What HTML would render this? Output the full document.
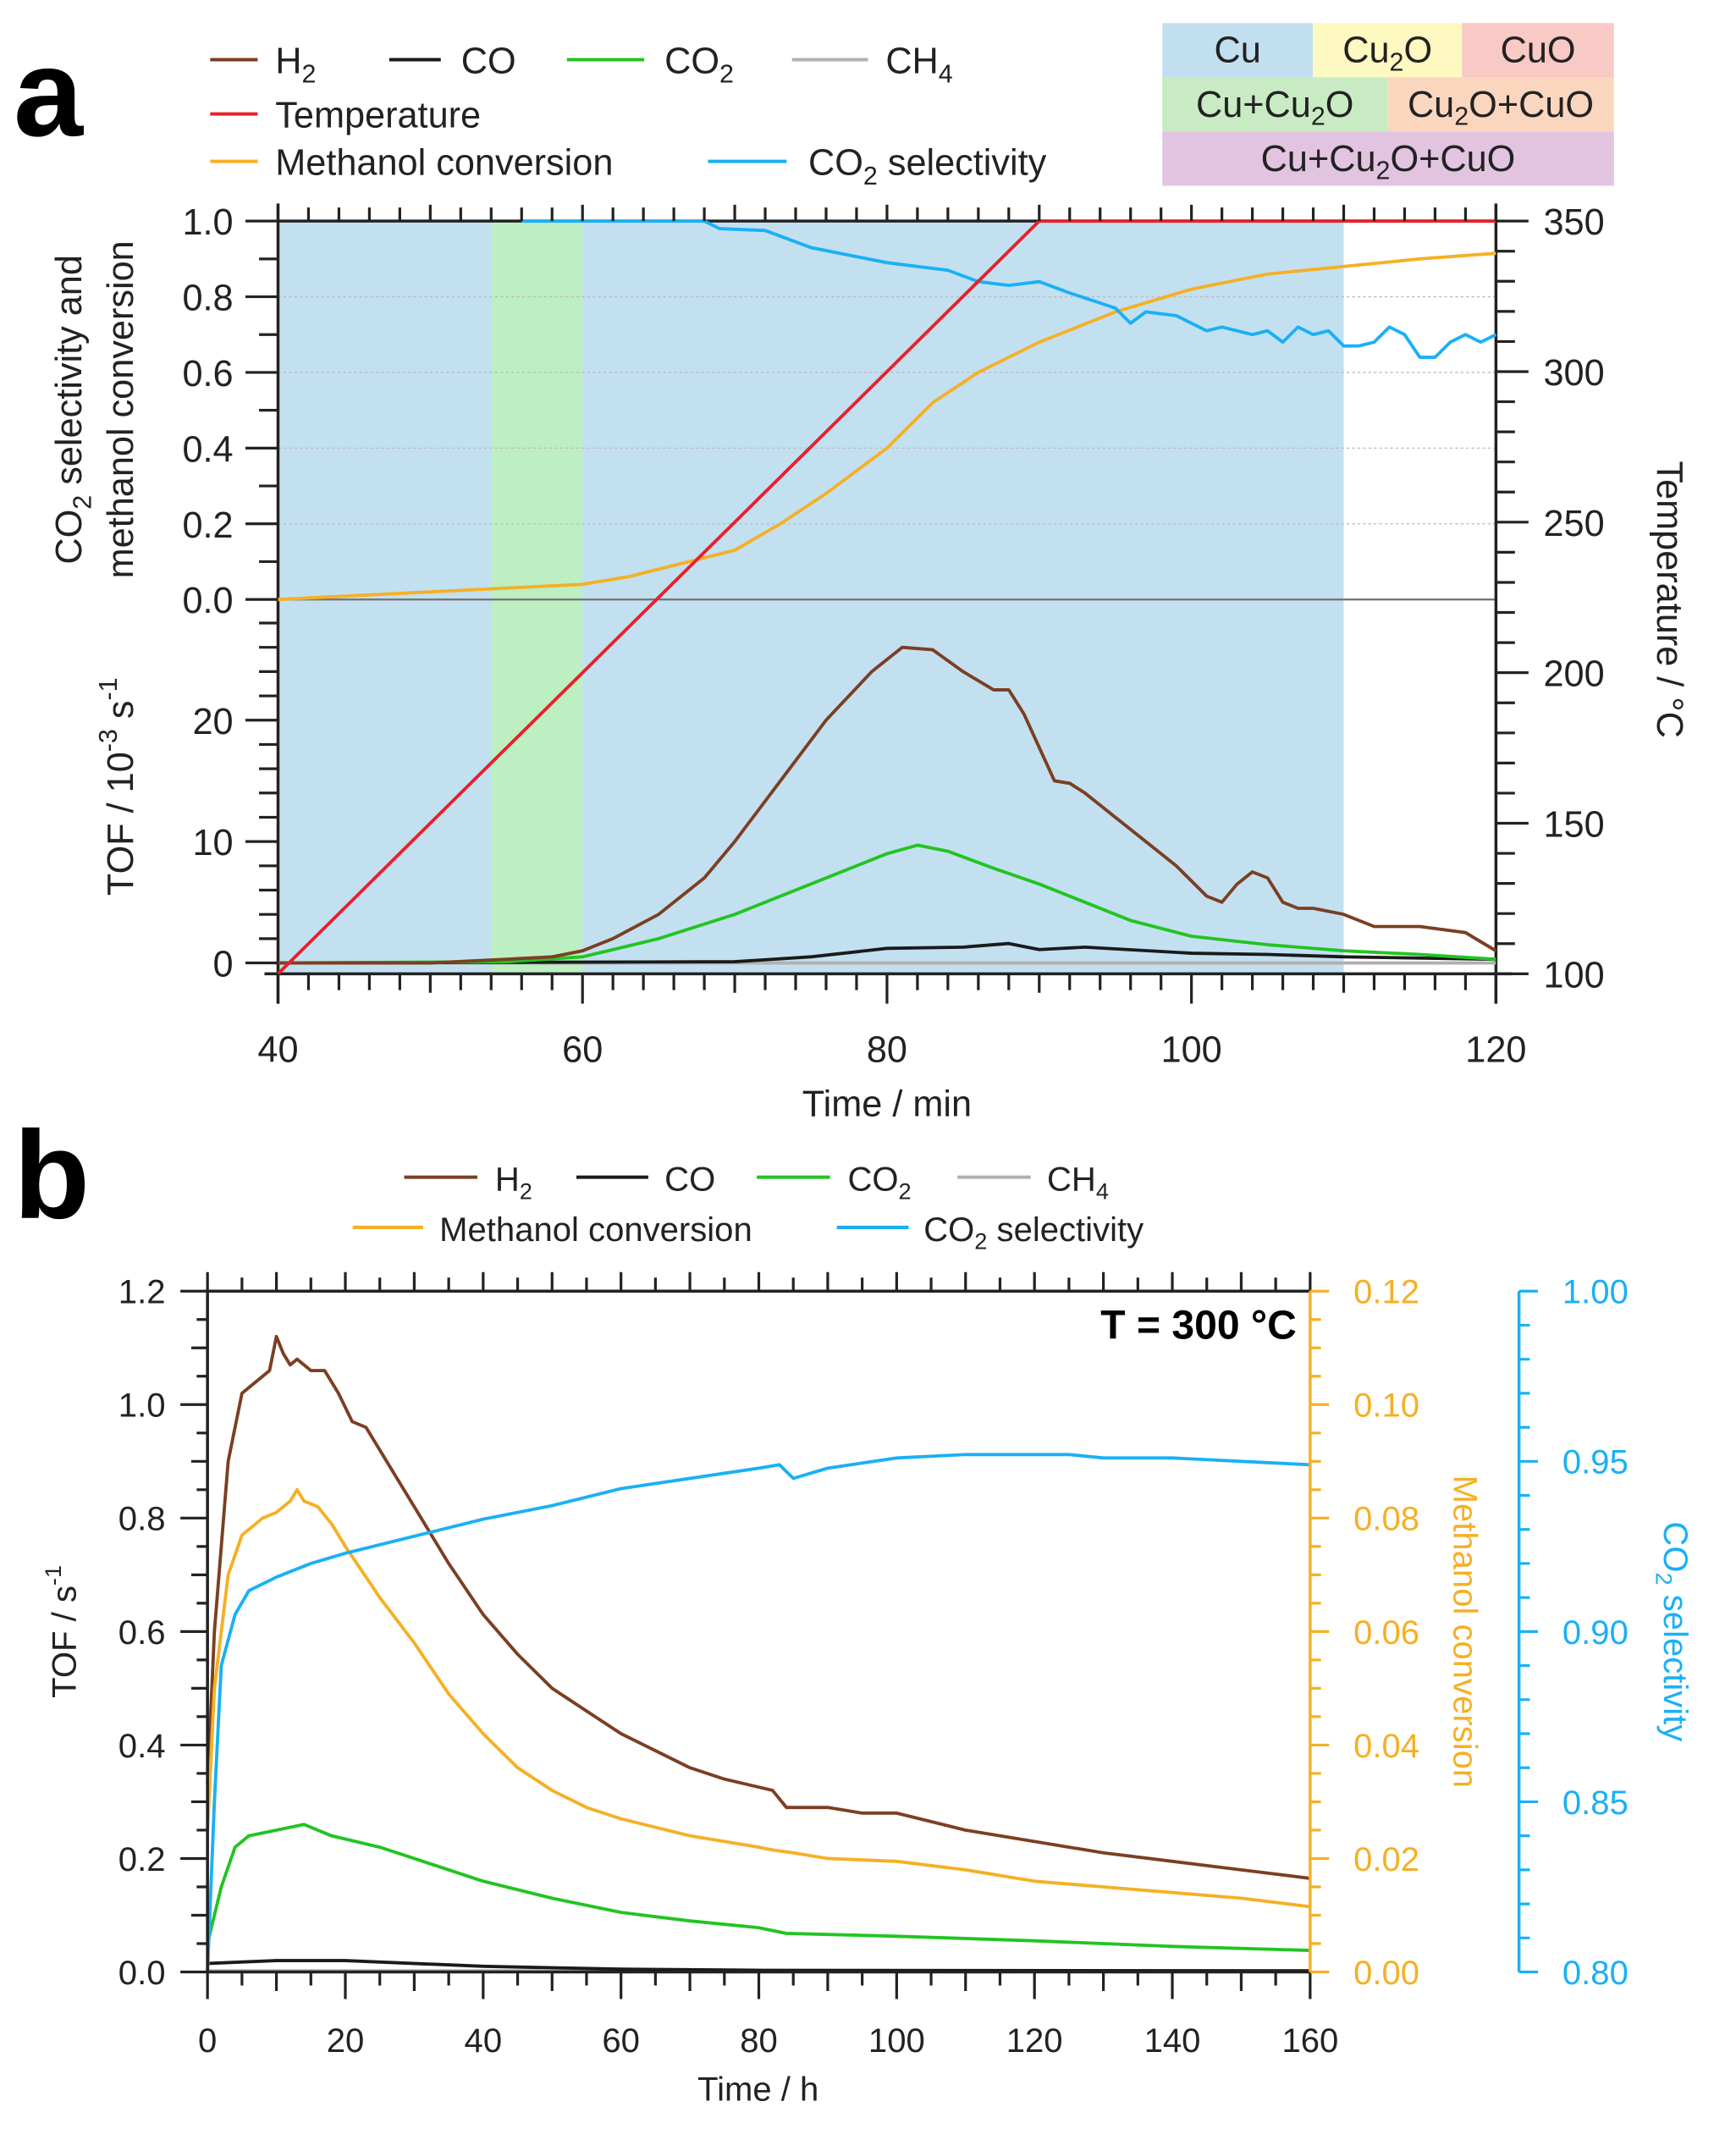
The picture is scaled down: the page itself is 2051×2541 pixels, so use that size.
<!DOCTYPE html>
<html><head><meta charset="utf-8"><style>
html,body{margin:0;padding:0;background:#fff}
svg{display:block}
text{font-family:"Liberation Sans",sans-serif;fill:#222}
</style></head><body>
<svg id="fig" width="2051" height="2541" viewBox="0 0 1280 1586" preserveAspectRatio="none" xmlns="http://www.w3.org/2000/svg">
<g id="pa"></g>
<g id="pb"></g>
</svg>
<script>
// ---------- Panel A data ----------
const aH2T=[40,50,55,58,60,62,65,68,70,73,76,79,81,83,85,87,88,89,91,92,93,95,97,99,101,102,103,104,105,106,107,108,110,112,115,118,120];
const aH2V=[0,0,0.3,0.5,1,2,4,7,10,15,20,24,26,25.8,24,22.5,22.5,20.5,15,14.8,14,12,10,8,5.5,5,6.5,7.5,7,5,4.5,4.5,4,3,3,2.5,1];
const aCO2T=[40,55,60,65,70,75,80,82,84,87,90,93,96,100,105,110,115,120];
const aCO2V=[0,0.1,0.5,2,4,6.5,9,9.7,9.2,7.8,6.5,5,3.5,2.2,1.5,1,0.7,0.3];
const aCOT=[40,70,75,80,85,88,90,93,100,105,110,120];
const aCOV=[0,0.1,0.5,1.2,1.3,1.6,1.1,1.3,0.8,0.7,0.5,0.3];
const aCH4T=[40,120];
const aCH4V=[0,0];
const aMeT=[40,50,55,60,63,66,70,73,76,80,83,86,90,95,100,105,110,115,120];
const aMeV=[0,0.02,0.03,0.04,0.06,0.09,0.13,0.2,0.28,0.4,0.52,0.6,0.68,0.76,0.82,0.86,0.88,0.9,0.915];
const aSelT=[56,68,69,72,75,80,84,86,88,90,92,95,96,97,99,101,102,104,105,106,107,108,109,110,111,112,113,114,115,116,117,118,119,120];
const aSelV=[1,1,0.98,0.975,0.93,0.89,0.87,0.84,0.83,0.84,0.81,0.77,0.73,0.76,0.75,0.71,0.72,0.70,0.71,0.68,0.72,0.70,0.71,0.67,0.67,0.68,0.72,0.70,0.64,0.64,0.68,0.70,0.68,0.70];
const aTempT=[40,90,120];
const aTempV=[100,350,350];
const aXTicks=[40,60,80,100,120];
const aFracTicks=["0.0","0.2","0.4","0.6","0.8","1.0"];
const aTofTicks=[0,10,20];
const aTempTicks=[100,150,200,250,300,350];
// ---------- Panel B data ----------
const bH2T=[0,1,3,5,7,9,10,11,12,13,15,17,19,21,23,27,30,35,40,45,50,55,60,65,70,75,82,84,90,95,100,105,110,120,130,140,150,160];
const bH2V=[0.33,0.6,0.9,1.02,1.04,1.06,1.12,1.09,1.07,1.08,1.06,1.06,1.02,0.97,0.96,0.88,0.82,0.72,0.63,0.56,0.5,0.46,0.42,0.39,0.36,0.34,0.32,0.29,0.29,0.28,0.28,0.265,0.25,0.23,0.21,0.195,0.18,0.165];
const bMeT=[0,1,3,5,8,10,12,13,14,16,18,20,25,30,35,40,45,50,55,60,70,80,82,85,90,100,110,120,130,140,150,160];
const bMeV=[0.025,0.05,0.07,0.077,0.08,0.081,0.083,0.085,0.083,0.082,0.079,0.075,0.066,0.058,0.049,0.042,0.036,0.032,0.029,0.027,0.024,0.022,0.0215,0.021,0.02,0.0195,0.018,0.016,0.015,0.014,0.013,0.0115];
const bCO2T=[0,2,4,6,10,14,18,25,30,40,50,60,70,80,84,100,120,140,160];
const bCO2V=[0.05,0.15,0.22,0.24,0.25,0.26,0.24,0.22,0.2,0.16,0.13,0.105,0.09,0.078,0.068,0.063,0.055,0.045,0.038];
const bCOT=[0,10,20,40,60,80,160];
const bCOV=[0.015,0.02,0.02,0.01,0.005,0.003,0.002];
const bCH4T=[0,160];
const bCH4V=[0.002,0.002];
const bSelT=[0,1,2,4,6,10,15,20,30,40,50,60,70,80,83,85,90,100,110,120,125,130,140,150,160];
const bSelV=[0.8,0.85,0.89,0.905,0.912,0.916,0.92,0.923,0.928,0.933,0.937,0.942,0.945,0.948,0.949,0.945,0.948,0.951,0.952,0.952,0.952,0.951,0.951,0.95,0.949];
const bXTicks=[0,20,40,60,80,100,120,140,160];
const bTofTicks=["0.0","0.2","0.4","0.6","0.8","1.0","1.2"];
const bMeTicks=["0.00","0.02","0.04","0.06","0.08","0.10","0.12"];
const bSelTicks=["0.80","0.85","0.90","0.95","1.00"];

const NS="http://www.w3.org/2000/svg";
function mk(parent,tag,attrs,txt){const e=document.createElementNS(NS,tag);for(const k in attrs)e.setAttribute(k,attrs[k]);if(txt!==undefined)e.textContent=txt;parent.appendChild(e);return e;}
function lin(d0,d1,r0,r1){return v=>r0+(v-d0)*(r1-r0)/(d1-d0);}
function pathOf(T,V,sx,sy){return T.map((t,i)=>(i?"L":"M")+sx(t).toFixed(2)+","+sy(V[i]).toFixed(2)).join("");}
const C={h2:"#7b3f22",co:"#1a1a1a",co2:"#22c422",ch4:"#b0b0b0",temp:"#e8202a",me:"#f5b025",sel:"#1ab0f5"};
// subscript helper: base, sub, rest
function S(a,n,r,fs,dy){return `${a}<tspan font-size="${fs}" dy="${dy}">${n}</tspan><tspan dy="-${dy}">${r||"\u200b"}</tspan>`;}

// ================= PANEL A =================
const pa=document.getElementById('pa');
const ax=lin(40,120,205,1103);
const afrac=lin(0,1,442,163);
const atof=lin(0,10,710,620.5);
const atemp=lin(100,350,718,163);
let e;
e=mk(pa,'rect',{x:205,y:163,width:ax(110)-205,height:555,fill:"#c3e0f1"});

e=mk(pa,'rect',{x:ax(54),y:163,width:ax(60)-ax(54),height:555,fill:"#bdefc2"});

[0.2,0.4,0.6,0.8].forEach(v=>{e=mk(pa,'line',{x1:205,x2:1103,y1:afrac(v),y2:afrac(v),stroke:"#bbb","stroke-width":0.8,"stroke-dasharray":"2,2"});
});
e=mk(pa,'line',{x1:205,x2:1103,y1:afrac(0),y2:afrac(0),stroke:"#777","stroke-width":1.5});

// axes frame
e=mk(pa,'path',{d:"M205,150V740M1103,150V740M205,163H1103M195,718H1115",stroke:"#222","stroke-width":2.2,fill:"none"});

const aSeries=[["ch4-line",aCH4T,aCH4V,atof,C.ch4],["co-line",aCOT,aCOV,atof,C.co],["co2-line",aCO2T,aCO2V,atof,C.co2],["h2-line",aH2T,aH2V,atof,C.h2],["methanol-conversion-line",aMeT,aMeV,afrac,C.me],["co2-selectivity-line",aSelT,aSelV,afrac,C.sel],["temperature-line",aTempT,aTempV,atemp,C.temp]];
aSeries.forEach(s=>{e=mk(pa,'path',{d:pathOf(s[1],s[2],ax,s[3]),fill:"none",stroke:s[4],"stroke-width":2.4,"stroke-linejoin":"round"});
});
// x ticks (minor every 2)
let d="";
for(let t=40;t<=120;t+=2){const x=ax(t);const maj=t%10===0;d+=`M${x},718v${maj?(t%20===0?22:14):12}M${x},163v-${maj?12:10}`;}
e=mk(pa,'path',{d:d,stroke:"#222","stroke-width":2,fill:"none"});

aXTicks.forEach(t=>{e=mk(pa,'text',{x:ax(t),y:783,"font-size":27,"text-anchor":"middle"},t);
});
e=mk(pa,'text',{x:654,y:823,"font-size":27,"text-anchor":"middle"},"Time / min");

// left ticks
d="";
for(let i=0;i<=10;i++){const y=afrac(i/10);d+=`M205,${y}h-${i%2===0?24:14}`;}
for(let v=0;v<=28;v+=2){const y=atof(v);d+=`M205,${y}h-${v%10===0?24:14}`;}
e=mk(pa,'path',{d:d,stroke:"#222","stroke-width":2,fill:"none"});

aFracTicks.forEach(v=>{e=mk(pa,'text',{x:172,y:afrac(+v)+10,"font-size":27,"text-anchor":"end"},v);
});
aTofTicks.forEach(v=>{e=mk(pa,'text',{x:172,y:atof(v)+10,"font-size":27,"text-anchor":"end"},v);
});
// right ticks
d="";
for(let v=100;v<=350;v+=10){const y=atemp(v);d+=`M1103,${y}h${v%50===0?24:14}`;}
e=mk(pa,'path',{d:d,stroke:"#222","stroke-width":2,fill:"none"});

aTempTicks.forEach(v=>{e=mk(pa,'text',{x:1138,y:atemp(v)+10,"font-size":27},v);
});
e=mk(pa,'text',{x:0,y:0,"font-size":27,"text-anchor":"middle",transform:"translate(1222,442) rotate(90)"},"Temperature / °C");

e=mk(pa,'text',{x:0,y:0,"font-size":27,"text-anchor":"middle",transform:"translate(60,302) rotate(-90)"});
e.innerHTML=S('CO','2',' selectivity and',19,7);

e=mk(pa,'text',{x:0,y:0,"font-size":27,"text-anchor":"middle",transform:"translate(98,302) rotate(-90)"},"methanol conversion");

e=mk(pa,'text',{x:0,y:0,"font-size":27,"text-anchor":"middle",transform:"translate(98,580) rotate(-90)"});
e.innerHTML='TOF / 10<tspan font-size="19" dy="-12">-3</tspan><tspan dy="12"> s</tspan><tspan font-size="19" dy="-12">-1</tspan>';

e=mk(pa,'text',{x:10,y:100,"font-size":92,"font-weight":"bold",style:"fill:#000"},"a");

// legend a
function leg(g,x1,x2,tx,y,color,html,name,fs){let l=mk(g,'line',{x1:x1,x2:x2,y1:y,y2:y,stroke:color,"stroke-width":2.5});

let t=mk(g,'text',{x:tx,y:y+10,"font-size":fs});t.innerHTML=html;
}
leg(pa,155,190,203,44,C.h2,S("H","2","",19,7),"legend-h2",27);
leg(pa,287,325,340,44,C.co,"CO","legend-co",27);
leg(pa,418,475,490,44,C.co2,S("CO","2","",19,7),"legend-co2",27);
leg(pa,584,640,653,44,C.ch4,S("CH","4","",19,7),"legend-ch4",27);
leg(pa,155,190,203,84,C.temp,"Temperature","legend-temperature",27);
leg(pa,155,190,203,119,C.me,"Methanol conversion","legend-methanol-conversion",27);
leg(pa,522,580,596,119,C.sel,S("CO","2"," selectivity",19,7),"legend-co2-selectivity",27);
// phase legend
const boxes=[[857,17,111,40,"#c2dff0","Cu"],[968,17,110,40,"#fdf9c0",S("Cu","2","O",19,6)],[1078,17,112,40,"#f9c9c6","CuO"],[857,57,166,40,"#c8ebc4",S("Cu+Cu","2","O",19,6)],[1023,57,167,40,"#fbd6bf",S("Cu","2","O+CuO",19,6)],[857,97,333,40,"#e2c4e0",S("Cu+Cu","2","O+CuO",19,6)]];
boxes.forEach(b=>{e=mk(pa,'rect',{x:b[0],y:b[1],width:b[2],height:b[3],fill:b[4]});

e=mk(pa,'text',{x:b[0]+b[2]/2,y:b[1]+29,"font-size":27,"text-anchor":"middle"});e.innerHTML=b[5];
});

// ================= PANEL B =================
const pb=document.getElementById('pb');
const bx=lin(0,160,153,966);
const btof=lin(0,1.2,1454,952);
const bme=lin(0,0.12,1454,952);
const bsel=lin(0.8,1.0,1454,952);
const bSeries=[["ch4-line-b",bCH4T,bCH4V,btof,C.ch4],["co-line-b",bCOT,bCOV,btof,C.co],["co2-line-b",bCO2T,bCO2V,btof,C.co2],["h2-line-b",bH2T,bH2V,btof,C.h2],["methanol-conversion-line-b",bMeT,bMeV,bme,C.me],["co2-selectivity-line-b",bSelT,bSelV,bsel,C.sel]];
bSeries.forEach(s=>{e=mk(pb,'path',{d:pathOf(s[1],s[2],bx,s[3]),fill:"none",stroke:s[4],"stroke-width":2.4,"stroke-linejoin":"round"});
});
e=mk(pb,'path',{d:"M153,952V1454H966M153,952H966",stroke:"#222","stroke-width":2.2,fill:"none"});

e=mk(pb,'line',{x1:966,x2:966,y1:952,y2:1454,stroke:"#f5b025","stroke-width":2.2});

e=mk(pb,'line',{x1:1120,x2:1120,y1:952,y2:1454,stroke:"#1ab0f5","stroke-width":2.2});

d="";
for(let t=0;t<=160;t+=5){const x=bx(t);const maj=t%20===0;const mid=t%10===0;d+=`M${x},1454v${maj?20:(mid?14:10)}M${x},952v-${mid?14:10}`;}
e=mk(pb,'path',{d:d,stroke:"#222","stroke-width":2,fill:"none"});

d="";
for(let i=0;i<=24;i++){const y=btof(i*0.05);d+=`M153,${y}h${i%4===0?-20:(i%2===0?-12:-8)}`;}
e=mk(pb,'path',{d:d,stroke:"#222","stroke-width":2,fill:"none"});

d="";
for(let i=0;i<=24;i++){const y=bme(i*0.005);d+=`M966,${y}h${i%4===0?14:8}`;}
e=mk(pb,'path',{d:d,stroke:"#f5b025","stroke-width":2,fill:"none"});

d="";
for(let i=0;i<=20;i++){const y=bsel(0.8+i*0.01);d+=`M1120,${y}h${i%5===0?14:8}`;}
e=mk(pb,'path',{d:d,stroke:"#1ab0f5","stroke-width":2,fill:"none"});

bXTicks.forEach(t=>{e=mk(pb,'text',{x:bx(t),y:1513,"font-size":25,"text-anchor":"middle"},t);
});
e=mk(pb,'text',{x:559,y:1549,"font-size":25,"text-anchor":"middle"},"Time / h");

bTofTicks.forEach(v=>{e=mk(pb,'text',{x:122,y:btof(+v)+9,"font-size":25,"text-anchor":"end"},v);
});
bMeTicks.forEach(v=>{e=mk(pb,'text',{x:998,y:bme(+v)+9,"font-size":25,style:"fill:#f5b025"},v);
});
bSelTicks.forEach(v=>{e=mk(pb,'text',{x:1152,y:bsel(+v)+9,"font-size":25,style:"fill:#1ab0f5"},v);
});
e=mk(pb,'text',{x:0,y:0,"font-size":25,"text-anchor":"middle",transform:"translate(56,1203) rotate(-90)"});
e.innerHTML='TOF / s<tspan font-size="17" dy="-11">-1</tspan>';

e=mk(pb,'text',{x:0,y:0,"font-size":25,"text-anchor":"middle",transform:"translate(1072,1203) rotate(90)",style:"fill:#f5b025"},"Methanol conversion");

e=mk(pb,'text',{x:0,y:0,"font-size":25,"text-anchor":"middle",transform:"translate(1227,1203) rotate(90)",style:"fill:#1ab0f5"});
e.innerHTML=S('CO','2',' selectivity',17,6);

e=mk(pb,'text',{x:956,y:987,"font-size":30,"font-weight":"bold","text-anchor":"end",style:"fill:#000"},"T = 300 °C");

e=mk(pb,'text',{x:10,y:898,"font-size":92,"font-weight":"bold",style:"fill:#000"},"b");

leg(pb,298,352,365,868,C.h2,S("H","2","",17,6),"legend-h2-b",25);
leg(pb,425,478,490,868,C.co,"CO","legend-co-b",25);
leg(pb,558,612,625,868,C.co2,S("CO","2","",17,6),"legend-co2-b",25);
leg(pb,706,760,772,868,C.ch4,S("CH","4","",17,6),"legend-ch4-b",25);
leg(pb,260,312,324,905,C.me,"Methanol conversion","legend-methanol-conversion-b",25);
leg(pb,617,670,681,905,C.sel,S("CO","2"," selectivity",17,6),"legend-co2-selectivity-b",25);
</script>
</body></html>
